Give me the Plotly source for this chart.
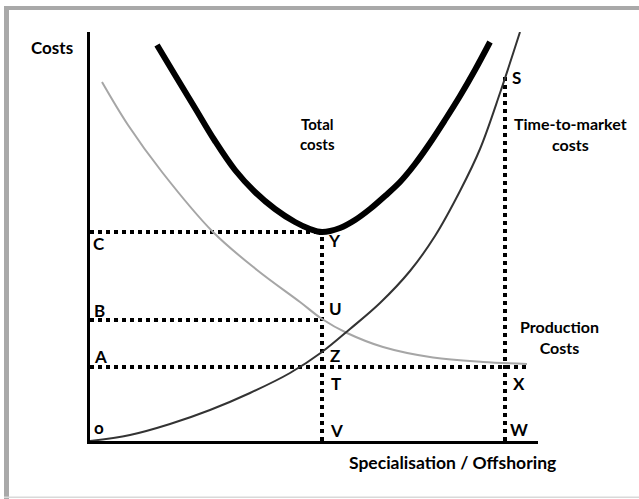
import plotly.graph_objects as go

# ---- data (x = specialisation, y = costs) ----
total_x = [67, 85, 105, 125, 145, 165, 185, 205, 220, 232, 250, 265, 280, 295, 310, 325, 340, 355, 370, 385, 400]
total_y = [396, 366, 333, 300, 271, 249, 232, 219, 212, 209, 213, 221, 232, 245, 259, 277, 298, 321, 345, 371, 399]

prod_x = [12, 38, 72, 123, 167, 210, 232, 257, 293, 343, 393, 437]
prod_y = [359, 316, 269, 209, 171, 139, 122, 108, 94, 83.5, 79, 77]

ttm_x = [0, 40, 80, 120, 160, 200, 232, 260, 290, 320, 345, 370, 390, 410, 430]
ttm_y = [0, 6, 17, 31, 48, 68, 89, 112, 138, 170, 205, 250, 292, 348, 409]

level_C, level_B, level_A = 209, 121, 74
pos_V, pos_W = 232, 415
level_S = 366
prod_end = 439
x_max, y_max = 448, 409

point_labels = ["C", "B", "A", "o", "Y", "U", "Z", "T", "V", "S", "X", "W"]
point_x = [1, 2, 2, 2, 236, 237, 238, 239, 238, 420, 421, 418]
point_y = [198, 131, 85, 14, 201, 133, 86, 58, 11, 364, 58, 12]

# ---- figure ----
W, H = 639, 499
ML, MR, MT, MB = 90, 101, 32, 58
PW, PH = W - ML - MR, H - MT - MB

def px(xp):
    return (xp - ML) / PW

def py(yp):
    return (H - MB - yp) / PH

fig = go.Figure()

dot = dict(color="black", width=4, dash="4px,4px")
fig.add_trace(go.Scatter(x=[0, pos_V], y=[level_C, level_C], mode="lines", line=dot))
fig.add_trace(go.Scatter(x=[0, pos_V], y=[level_B, level_B], mode="lines", line=dot))
fig.add_trace(go.Scatter(x=[0, prod_end], y=[level_A, level_A], mode="lines", line=dot))
fig.add_trace(go.Scatter(x=[pos_V, pos_V], y=[0, level_C], mode="lines", line=dot))
fig.add_trace(go.Scatter(x=[pos_W, pos_W], y=[0, level_S], mode="lines", line=dot))

sm = 1.0
fig.add_trace(go.Scatter(x=prod_x, y=prod_y, mode="lines",
                         line=dict(color="#a6a6a6", width=2, shape="spline", smoothing=sm)))
fig.add_trace(go.Scatter(x=ttm_x, y=ttm_y, mode="lines",
                         line=dict(color="#333333", width=2, shape="spline", smoothing=sm)))
fig.add_trace(go.Scatter(x=total_x, y=total_y, mode="lines",
                         line=dict(color="black", width=6, shape="spline", smoothing=sm)))

font_main = "Lato, 'Open Sans', sans-serif"
ann = []
for t, xx, yy in zip(point_labels, point_x, point_y):
    ann.append(dict(x=xx, y=yy, text="<b>%s</b>" % t, xanchor="left", yanchor="middle",
                    showarrow=False, font=dict(size=17, color="black", family=font_main)))

# free text labels, placed in pixel positions (paper coords)
text_items = [
    ("Costs", 52, 48, 17),
    ("Total<br>costs", 317, 134, 15),
    ("Time-to-market<br>costs", 570, 134, 16),
    ("Production<br>Costs", 559, 337, 16),
    ("Specialisation / Offshoring", 452, 462, 17.5),
]
for t, xx, yy, s in text_items:
    ann.append(dict(x=px(xx), y=py(yy), xref="paper", yref="paper",
                    text="<b>%s</b>" % t.replace("<br>", "</b><br><b>"),
                    xanchor="center", yanchor="middle", showarrow=False,
                    font=dict(size=s, color="black", family=font_main)))

shapes = [
    dict(type="rect", xref="paper", yref="paper", x0=px(4), x1=px(9), y0=py(499), y1=py(6),
         fillcolor="#a9a9a9", line=dict(width=0), layer="below"),
    dict(type="rect", xref="paper", yref="paper", x0=px(4), x1=px(639), y0=py(10), y1=py(6),
         fillcolor="#a9a9a9", line=dict(width=0), layer="below"),
    dict(type="rect", xref="paper", yref="paper", x0=px(4), x1=px(639), y0=py(498), y1=py(496.5),
         fillcolor="#d9d9d9", line=dict(width=0), layer="below"),
]

fig.update_layout(
    width=W, height=H,
    margin=dict(l=ML, r=MR, t=MT, b=MB, pad=0),
    paper_bgcolor="white", plot_bgcolor="white",
    showlegend=False,
    annotations=ann, shapes=shapes,
    xaxis=dict(range=[0, x_max], showgrid=False, zeroline=False, showticklabels=False,
               ticks="", showline=True, linecolor="black", linewidth=3, fixedrange=True),
    yaxis=dict(range=[0, y_max], showgrid=False, zeroline=False, showticklabels=False,
               ticks="", showline=True, linecolor="black", linewidth=3, fixedrange=True),
)

fig.write_html("out.html", config=dict(displayModeBar=False),
               post_script="document.body.style.margin='0';document.body.style.padding='0';")
